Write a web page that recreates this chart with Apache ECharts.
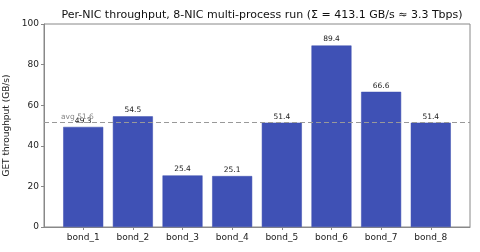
<!DOCTYPE html>
<html>
<head>
<meta charset="utf-8">
<script src="https://cdn.jsdelivr.net/npm/echarts@6/dist/echarts.min.js"></script>
<style>
  html, body { margin: 0; padding: 0; background: #fff; }
  #chart { width: 480px; height: 252px; }
</style>
</head>
<body>
<div id="chart"></div>
<script>
// per-NIC GET throughput (GB/s)
const nics = ['bond_1', 'bond_2', 'bond_3', 'bond_4', 'bond_5', 'bond_6', 'bond_7', 'bond_8'];
const throughput = [49.3, 54.5, 25.4, 25.1, 51.4, 89.4, 66.6, 51.4];
const yTicks = [0, 20, 40, 60, 80, 100];
const avg = 51.6;

const chart = echarts.init(document.getElementById('chart'));

const option = {
    animation: false,
    textStyle: { fontFamily: 'DejaVu Sans' },
    title: {
        text: 'Per-NIC throughput, 8-NIC multi-process run (\u03A3 = 413.1 GB/s \u2248 3.3 Tbps)',
        left: 257, top: 5, textAlign: 'center',
        textStyle: { fontSize: 11, fontWeight: 'normal', color: '#111', fontFamily: 'DejaVu Sans' }
    },
    grid: {
        left: 44, right: 10, top: 24, bottom: 25,
        outerBoundsMode: 'none',
        containLabel: false,
        show: true, borderColor: '#888', borderWidth: 1
    },
    xAxis: {
        type: 'value',
        min: -0.79, max: 7.79,
        splitLine: { show: false },
        axisLine: { show: true, onZero: false, lineStyle: { color: '#888' } },
        axisTick: { show: true, customValues: nics.map((_, i) => i), length: 3, lineStyle: { color: '#888' } },
        axisLabel: {
            customValues: nics.map((_, i) => i),
            formatter: v => nics[Math.round(v)],
            color: '#222', fontSize: 9, margin: 6
        }
    },
    yAxis: {
        type: 'value',
        min: yTicks[0], max: yTicks[yTicks.length - 1], interval: 20,
        name: 'GET throughput (GB/s)',
        nameLocation: 'middle', nameGap: 27,
        nameTextStyle: { fontSize: 9, color: '#222' },
        splitLine: { show: false },
        axisLine: { show: true, onZero: false, lineStyle: { color: '#888' } },
        axisTick: { show: true, length: 3, lineStyle: { color: '#888' } },
        axisLabel: { color: '#222', fontSize: 9, margin: 5 }
    },
    series: [{
        type: 'bar',
        data: throughput.map((v, i) => [i, v]),
        barWidth: 40,
        itemStyle: { color: '#3f51b5', borderColor: '#3a4cae', borderWidth: 0.5 },
        label: {
            show: true, position: 'top', distance: 2,
            formatter: p => p.value[1].toFixed(1),
            fontSize: 7.5, color: '#222'
        },
        markLine: {
            silent: true,
            symbol: 'none',
            data: [{ yAxis: avg }],
            lineStyle: { color: '#999', type: [5, 3], width: 1 },
            label: {
                show: true, position: 'insideStartTop',
                formatter: 'avg ' + avg.toFixed(1),
                color: '#888', fontSize: 7.5, distance: [17, 1]
            }
        }
    }]
};

option && chart.setOption(option);
</script>
</body>
</html>
